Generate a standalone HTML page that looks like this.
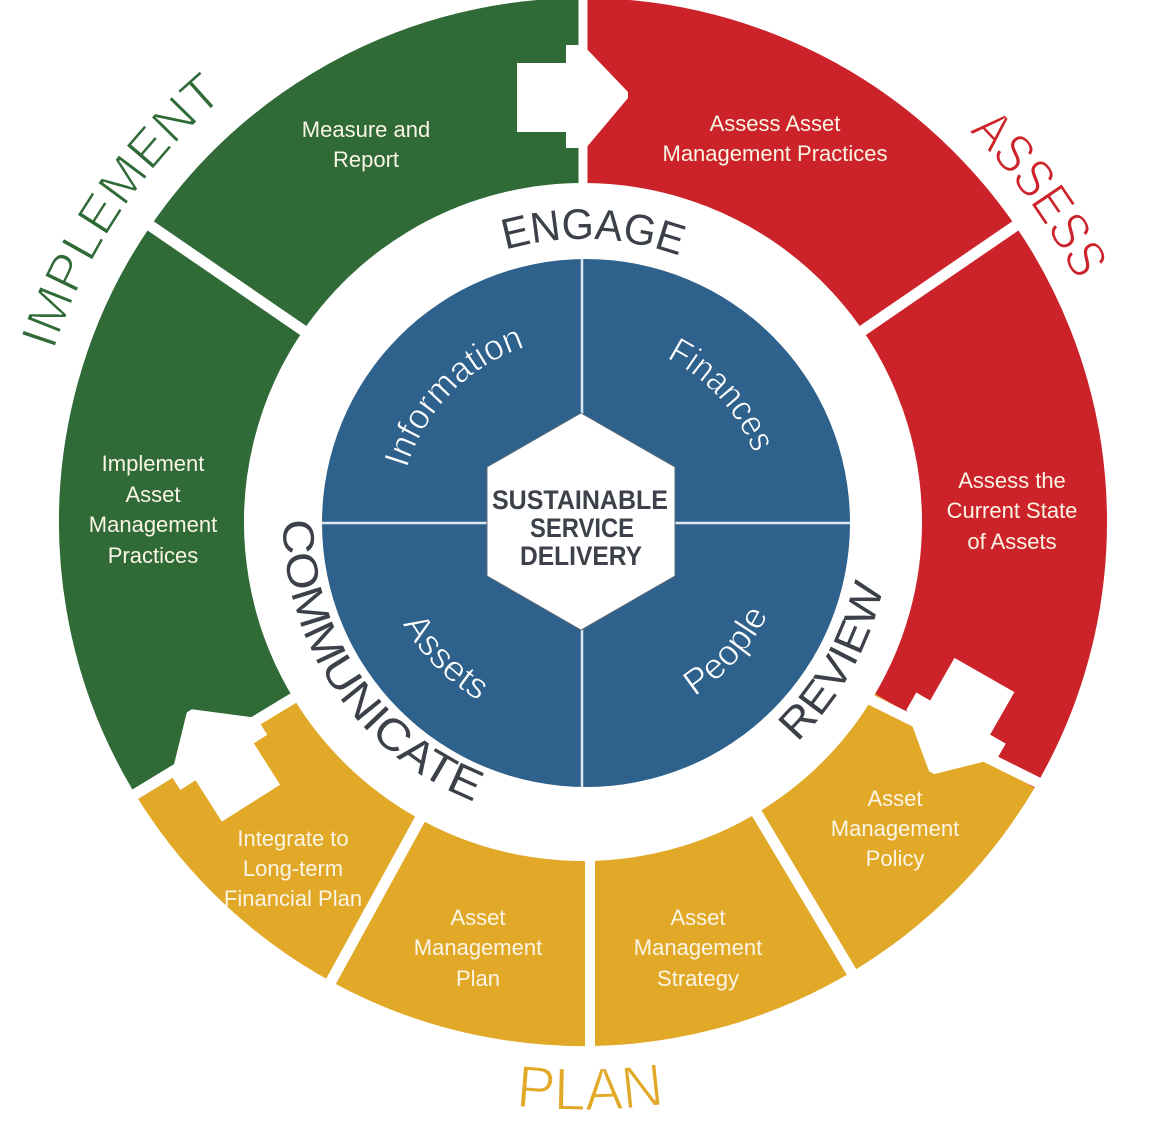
<!DOCTYPE html>
<html>
<head>
<meta charset="utf-8">
<style>
html,body{margin:0;padding:0;background:#fff;width:1170px;height:1125px;overflow:hidden;}
svg{display:block;}
</style>
</head>
<body>
<svg width="1170" height="1125" viewBox="0 0 1170 1125" xmlns="http://www.w3.org/2000/svg" font-family="'Liberation Sans', Arial, sans-serif">
<defs>
  <path id="pImpl" d="M83.7,766.6 A556,556 0 0 1 620.8,-32.7"/>
  <path id="pAssess" d="M528.5,-24.3 A549,549 0 0 1 1083.4,747.9"/>
  <path id="pPlan" d="M77.4,822.2 A588,588 0 0 0 1095.8,809.8"/>
  <path id="pEngage" d="M343,372 A283,283 0 0 1 832.9,389.1"/>
  <path id="pReview" d="M588.4,829 A307,307 0 0 0 846.2,363.9"/>
  <path id="pComm" d="M312.9,391.4 A300,300 0 0 0 605,821.2"/>
  <path id="pInfo" d="M405.9,571.8 A184,184 0 0 1 628.4,343.7"/>
  <path id="pFin" d="M543.2,342.4 A184,184 0 0 1 758.5,577.3"/>
  <path id="pAssets" d="M383.4,467 A207,207 0 0 0 635.2,722.3"/>
  <path id="pPeople" d="M540,724.5 A207,207 0 0 0 779.9,458"/>
</defs>

<rect x="0" y="0" width="1170" height="1125" fill="#ffffff"/>

<!-- outer ring segments -->
<g fill="none" stroke-width="185">
  <circle cx="583" cy="522" r="431.5" stroke="#2f6a37" stroke-dasharray="913.5 3000" transform="rotate(148.7 583 522)"/>
  <circle cx="583" cy="522" r="431.5" stroke="#cc2229" stroke-dasharray="907.5 3000" transform="rotate(270 583 522)"/>
  <circle cx="583" cy="522" r="431.5" stroke="#e1a927" stroke-dasharray="890.2 3000" transform="rotate(30.5 583 522)"/>
</g>

<!-- white gaps -->
<g stroke="#ffffff" stroke-width="11">
  <line x1="583" y1="195" x2="583" y2="-15" stroke-width="9"/>
  <line x1="310.7" y1="335.6" x2="141.6" y2="219.7"/>
  <line x1="855.3" y1="335.6" x2="1024.4" y2="219.7"/>
  <line x1="835" y1="682" x2="1071" y2="799"/>
  <line x1="752.1" y1="805.4" x2="857.2" y2="981.4"/>
  <line x1="590" y1="855" x2="590" y2="1060" stroke-width="10"/>
  <line x1="424.3" y1="811.3" x2="325.7" y2="991"/>
  <line x1="301" y1="693.4" x2="125.8" y2="799.9"/>
</g>

<!-- arrows -->
<g fill="#ffffff">
  <polygon points="517,63 566,63 566,45 583,45 628,92 628,98 586,148 566,148 566,132 517,132"/>
  <g transform="translate(-9,-2)">
    <polygon points="517,63 566,63 566,45 583,45 628,92 628,98 586,148 566,148 566,132 517,132" transform="rotate(-122.4 583 522)"/>
  </g>
  <polygon points="517,63 566,63 566,45 583,45 628,92 628,98 586,148 566,148 566,132 517,132" transform="rotate(119.7 583 522)"/>
</g>

<!-- inner blue circle -->
<circle cx="586" cy="523" r="264" fill="#2e618b"/>
<g stroke="#dde9f2" stroke-width="2.5">
  <line x1="582" y1="259" x2="582" y2="787"/>
  <line x1="322" y1="523" x2="850" y2="523"/>
</g>

<!-- hexagon -->
<polygon points="581,413 675,467 675,576 581,630 487,576 487,467" fill="#ffffff" stroke="#5d6b78" stroke-width="1"/>
<g fill="#3d424a" font-weight="bold" font-size="27">
  <text x="492" y="509" textLength="176" lengthAdjust="spacingAndGlyphs">SUSTAINABLE</text>
  <text x="530" y="537" textLength="104" lengthAdjust="spacingAndGlyphs">SERVICE</text>
  <text x="520" y="565" textLength="122" lengthAdjust="spacingAndGlyphs">DELIVERY</text>
</g>

<!-- blue quadrant labels -->
<g fill="#ffffff" font-size="36" text-anchor="middle" stroke="#2e618b" stroke-width="0.8">
  <text><textPath href="#pInfo" startOffset="50%" textLength="176" lengthAdjust="spacingAndGlyphs">Information</textPath></text>
  <text><textPath href="#pFin" startOffset="50%" textLength="132" lengthAdjust="spacingAndGlyphs">Finances</textPath></text>
  <text><textPath href="#pAssets" startOffset="50%" textLength="110" lengthAdjust="spacingAndGlyphs">Assets</textPath></text>
  <text><textPath href="#pPeople" startOffset="50%" textLength="112" lengthAdjust="spacingAndGlyphs">People</textPath></text>
</g>

<!-- inner ring words -->
<g fill="#3c4149" text-anchor="middle">
  <text font-size="43"><textPath href="#pEngage" startOffset="50%" textLength="177" lengthAdjust="spacingAndGlyphs">ENGAGE</textPath></text>
  <text font-size="43"><textPath href="#pReview" startOffset="50%" textLength="180" lengthAdjust="spacingAndGlyphs">REVIEW</textPath></text>
  <text font-size="44"><textPath href="#pComm" startOffset="50%" textLength="362" lengthAdjust="spacingAndGlyphs">COMMUNICATE</textPath></text>
</g>

<!-- outer big words -->
<g text-anchor="middle" stroke="#ffffff" stroke-width="1.4">
  <text font-size="52" fill="#2f6a37"><textPath href="#pImpl" startOffset="50%" textLength="310" lengthAdjust="spacingAndGlyphs">IMPLEMENT</textPath></text>
  <text font-size="54" fill="#cc2229"><textPath href="#pAssess" startOffset="50%" textLength="185" lengthAdjust="spacingAndGlyphs">ASSESS</textPath></text>
  <text font-size="60" fill="#e1a927"><textPath href="#pPlan" startOffset="50%" textLength="150" lengthAdjust="spacingAndGlyphs">PLAN</textPath></text>
</g>

<!-- segment labels -->
<g fill="#fbf5e6" font-size="22" text-anchor="middle">
  <text x="366" y="137">Measure and</text>
  <text x="366" y="167">Report</text>
  <text x="775" y="131">Assess Asset</text>
  <text x="775" y="161">Management Practices</text>
  <text x="153" y="471">Implement</text>
  <text x="153" y="502">Asset</text>
  <text x="153" y="532">Management</text>
  <text x="153" y="563">Practices</text>
  <text x="1012" y="488">Assess the</text>
  <text x="1012" y="518">Current State</text>
  <text x="1012" y="549">of Assets</text>
  <text x="895" y="806">Asset</text>
  <text x="895" y="836">Management</text>
  <text x="895" y="866">Policy</text>
  <text x="698" y="925">Asset</text>
  <text x="698" y="955">Management</text>
  <text x="698" y="986">Strategy</text>
  <text x="478" y="925">Asset</text>
  <text x="478" y="955">Management</text>
  <text x="478" y="986">Plan</text>
  <text x="293" y="846">Integrate to</text>
  <text x="293" y="876">Long-term</text>
  <text x="293" y="906">Financial Plan</text>
</g>
</svg>
</body>
</html>
